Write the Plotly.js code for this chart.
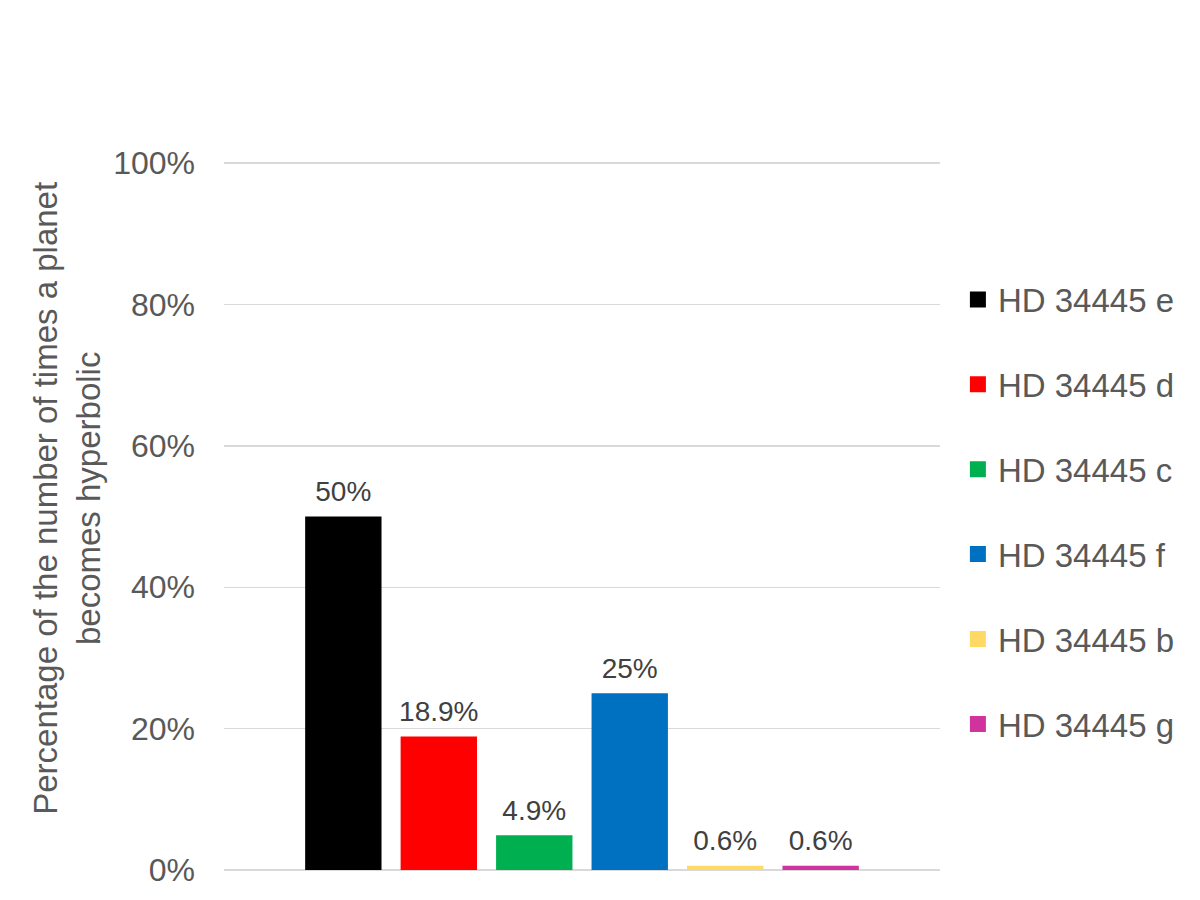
<!DOCTYPE html>
<html>
<head>
<meta charset="utf-8">
<script src="https://cdn.plot.ly/plotly-3.0.1.min.js"></script>
<style>html,body{margin:0;padding:0;background:#fff;}#chart{width:1200px;height:900px;}</style>
</head>
<body>
<div id="chart"></div>
<script>
const planets = ['HD 34445 e', 'HD 34445 d', 'HD 34445 c', 'HD 34445 f', 'HD 34445 b', 'HD 34445 g'];
const percentages = [0.50, 0.189, 0.049, 0.25, 0.006, 0.006];
const valueLabels = ['50%', '18.9%', '4.9%', '25%', '0.6%', '0.6%'];
const colors = ['#000000', '#FF0000', '#00B050', '#0070C0', '#FFD966', '#D1339E'];
const category = ['HD 34445'];
const yTickValues = [0, 0.2, 0.4, 0.6, 0.8, 1.0];
const yTickLabels = ['0%', '20%', '40%', '60%', '80%', '100%'];
const yTitle = 'Percentage of the number of times a planet<br>becomes hyperbolic';

const font = 'Liberation Sans, Arial, sans-serif';

const bars = planets.map((name, i) => ({
  type: 'bar',
  name: name,
  offsetgroup: 'g' + i,
  x: category,
  y: [percentages[i]],
  showlegend: false,
  hoverinfo: 'name+y',
  marker: {color: colors[i], line: {width: 0}}
}));

const labels = planets.map((name, i) => ({
  type: 'scatter',
  mode: 'markers+text',
  name: name,
  offsetgroup: 'g' + i,
  x: category,
  y: [percentages[i]],
  text: [valueLabels[i]],
  textposition: 'top center',
  textfont: {family: font, size: 28, color: '#404040'},
  marker: {size: 12, opacity: 0, color: colors[i]},
  cliponaxis: false,
  showlegend: false,
  hoverinfo: 'skip'
}));

const legendItems = planets.map((name, i) => ({
  type: 'scatter',
  mode: 'markers',
  name: name,
  offsetgroup: 'g' + i,
  legendgroup: 'lg' + i,
  x: [null],
  y: [null],
  marker: {symbol: 'square', size: 16, color: colors[i]},
  showlegend: true,
  hoverinfo: 'skip'
}));

const layout = {
  width: 1200,
  height: 900,
  paper_bgcolor: '#ffffff',
  plot_bgcolor: '#ffffff',
  margin: {l: 224, r: 260, t: 161, b: 30},
  barmode: 'group',
  scattermode: 'group',
  bargap: 0.2,
  bargroupgap: 0.2,
  scattergap: 0.2,
  font: {family: font, color: '#595959'},
  showlegend: true,
  legend: {
    x: 1.025, xanchor: 'left',
    y: 0.505, yanchor: 'middle',
    font: {family: font, size: 33, color: '#595959'},
    tracegroupgap: 39,
    itemwidth: 30,
    bgcolor: 'rgba(0,0,0,0)'
  },
  xaxis: {
    showticklabels: false,
    showgrid: false,
    zeroline: false,
    showline: false,
    ticks: ''
  },
  yaxis: {
    range: [0, 1.003],
    tickvals: yTickValues,
    ticktext: yTickLabels,
    tickfont: {family: font, size: 32, color: '#595959'},
    showgrid: true,
    gridcolor: '#D9D9D9',
    gridwidth: 1.3,
    zeroline: true,
    zerolinecolor: '#D9D9D9',
    zerolinewidth: 1.3,
    showline: false,
    ticks: '',
    ticklabelstandoff: 28
  },
  annotations: [{
    text: yTitle,
    xref: 'paper', yref: 'paper',
    x: -0.2193, y: 0.525,
    xanchor: 'center', yanchor: 'middle',
    textangle: -90,
    showarrow: false,
    font: {family: font, size: 33, color: '#595959'}
  }]
};

Plotly.newPlot('chart', [...bars, ...labels, ...legendItems], layout, {displayModeBar: false, staticPlot: true});
</script>
</body>
</html>
